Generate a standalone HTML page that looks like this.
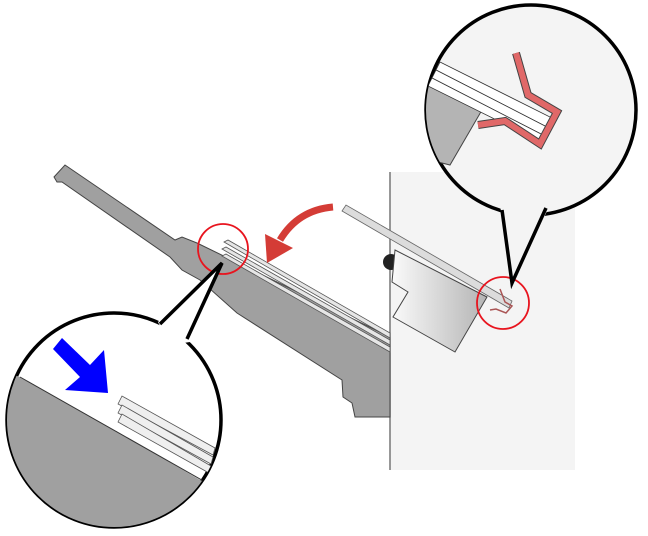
<!DOCTYPE html>
<html><head><meta charset="utf-8"><style>html,body{margin:0;padding:0;background:#fff}svg{display:block}</style></head>
<body>
<svg width="648" height="536" viewBox="0 0 648 536">
<defs>
<linearGradient id="g1" x1="0" y1="0" x2="1" y2="0"><stop offset="0" stop-color="#fafafa"/><stop offset="1" stop-color="#b4b4b4"/></linearGradient>
<clipPath id="cl"><circle cx="114" cy="420" r="107"/></clipPath>
<clipPath id="cr"><circle cx="531" cy="110" r="105"/></clipPath>
</defs>
<rect x="390" y="172" width="185" height="298" fill="#f4f4f4"/>
<line x1="390" y1="172" x2="390" y2="470" stroke="#777" stroke-width="1.5"/>
<polygon fill="#a0a0a0" stroke="#444" stroke-width="1"
 points="54,177 65,165 175,240 182,237 197,243 390,337 390,417 355,417 352,403 343,397 342,380 237,313 200,280 182,270 170,257 62,182 57,182"/>
<g stroke="#555" stroke-width="0.8" fill="#e6e6e6">
<polygon points="224,242 228,240 390,333 390,338"/>
<polygon points="222,249 226,247 390,340 390,345"/>
<polygon points="222,256 226,254 390,347 390,352"/>
</g>
<circle cx="391" cy="262" r="8" fill="#222"/>
<polygon fill="url(#g1)" stroke="#444" stroke-width="1"
 points="395,250 487,297 455,352 393,317 408,292 392,282"/>
<polygon fill="#dcdcdc" stroke="#666" stroke-width="0.8" points="342,211 346,205 512,301 509,308"/>
<polyline points="500,289 505,302 512,306 506,313 496,309 490,310" fill="none" stroke="#a55" stroke-width="1.5"/>
<circle cx="223" cy="249" r="25" fill="none" stroke="#e8141e" stroke-width="1.8"/>
<circle cx="503" cy="303" r="26" fill="none" stroke="#e8141e" stroke-width="1.8"/>
<path d="M333,207 Q298,210 280,240" fill="none" stroke="#d43c36" stroke-width="7"/>
<polygon fill="#d43c36" points="265,234 293,248 267,263"/>

<circle cx="114" cy="420" r="107" fill="#fff" stroke="#000" stroke-width="3.5"/>
<g clip-path="url(#cl)">
<polygon fill="#a0a0a0" points="20,377 118,432 200,480 230,495 230,540 0,540 0,370"/>
<line x1="20" y1="377" x2="230" y2="496" stroke="#333" stroke-width="1"/>
<g stroke="#555" stroke-width="0.8" fill="#efefef">
<polygon points="118,404 122,396 215,448 213,455"/>
<polygon points="118,413 122,405 213,457 211,464"/>
<polygon points="118,422 122,414 211,466 209,473"/>
</g>
</g>
<polygon points="158,322 222,263 190,342 170,345" fill="#fff"/>
<polyline points="160,324 222,263 187,339" fill="none" stroke="#000" stroke-width="3.5" stroke-linejoin="miter"/>
<polygon fill="#0000ff" points="53,349 62,338 90,365 104,350 108,393 65,390 80,377"/>

<circle cx="531" cy="110" r="105" fill="#f4f4f4" stroke="#000" stroke-width="3.5"/>
<g clip-path="url(#cr)">
<polygon fill="#b4b4b4" stroke="#444" stroke-width="1" points="410,75 482,110 450,165 430,160 410,150"/>
<g stroke="#333" stroke-width="0.8" fill="#fff">
<polygon points="440,62 552,118 547,127 436,70"/>
<polygon points="436,70 547,127 543,135 432,78"/>
<polygon points="432,78 543,135 539,141 428,86"/>
</g>
<polyline points="516,53 528,95 557,112 540,144 505,121 478,125" fill="none" stroke="#444" stroke-width="8" stroke-linejoin="miter"/>
<polyline points="516,53 528,95 557,112 540,144 505,121 478,125" fill="none" stroke="#e06868" stroke-width="6" stroke-linejoin="miter"/>
</g>
<polygon points="500,205 512,283 550,205 530,210" fill="#f4f4f4"/>
<polyline points="502,210 512,283 546,208" fill="none" stroke="#000" stroke-width="3.5" stroke-linejoin="miter"/>
</svg>
</body></html>
